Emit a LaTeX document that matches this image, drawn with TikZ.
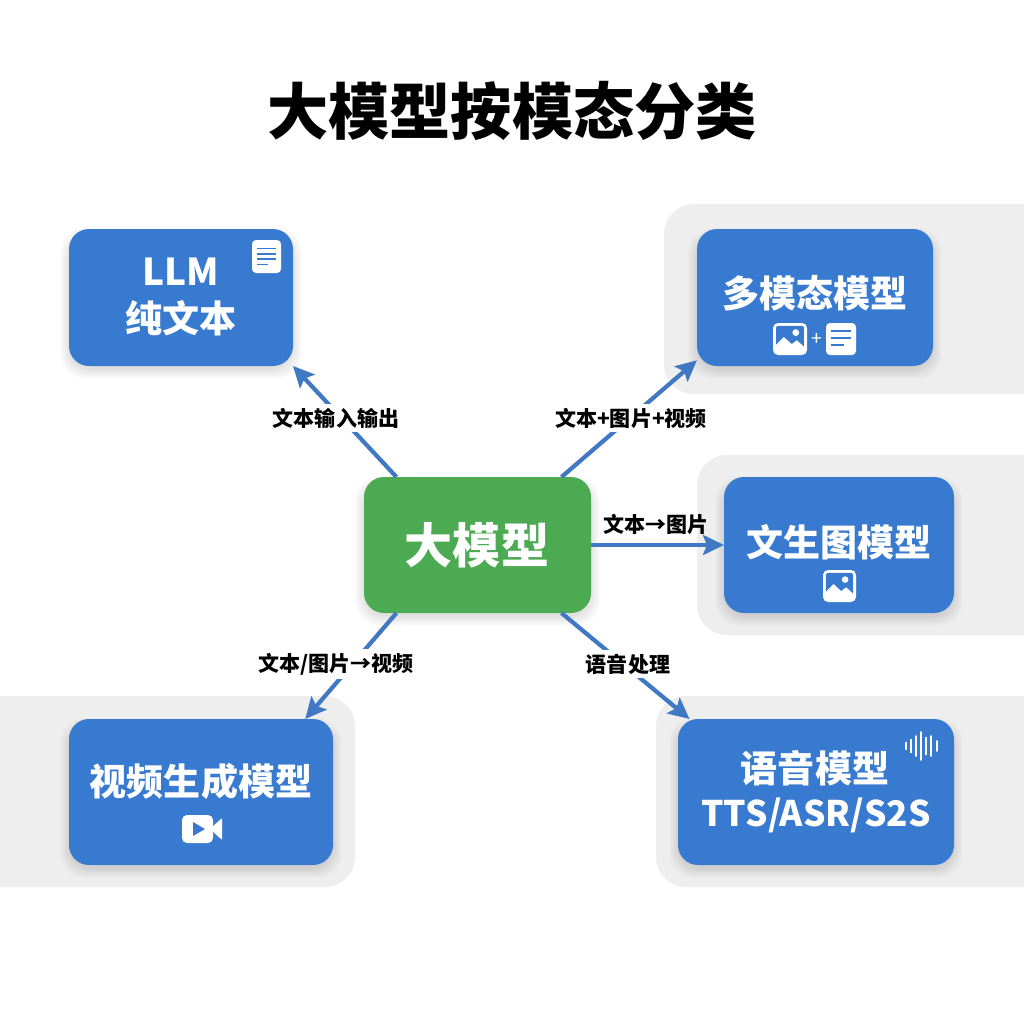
\documentclass[tikz,border=0pt]{standalone}
\usepackage{fontspec}
\setmainfont{Noto Sans CJK SC}
\usetikzlibrary{arrows.meta}
\definecolor{boxblue}{RGB}{56,122,207}
\definecolor{boxgreen}{RGB}{76,170,82}
\definecolor{linkblue}{RGB}{64,120,196}
\definecolor{panelgray}{RGB}{238,238,238}
\newcommand{\fpx}[1]{\fontsize{\dimexpr #1\dimexpr 0.2845pt\relax\relax}{\dimexpr #1\dimexpr 0.3pt\relax\relax}\selectfont\bfseries}
\tikzset{
  x=0.01cm,y=-0.01cm,
  panel/.style={fill=panelgray,draw=none},
  card/.style={draw=none,rounded corners=0.2cm,inner sep=0pt,outer sep=0pt},
  cardtext/.style={text=white,inner sep=0pt,anchor=center},
  linklabel/.style={text=black,inner sep=1pt,anchor=center,font=\fpx{21}},
  link/.style={draw=linkblue,line width=1.2pt,-{Stealth[length=0.21cm,width=0.2cm,inset=0.04cm]}},
}
% soft shadow of a card: x1 y1 x2 y2
\newcommand{\softshadow}[4]{%
  \foreach \g in {0,...,9}{%
    \fill[black,opacity=0.013,rounded corners=0.24cm]
      (#1-9+\g,#2-1+\g) rectangle (#3+9-\g,#4+13-\g);
  }%
}
% card node: name x1 y1 x2 y2 colour
\newcommand{\card}[6]{%
  \softshadow{#2}{#3}{#4}{#5}%
  \node[card,fill=#6,minimum width={(#4-#2)*0.01cm},minimum height={(#5-#3)*0.01cm}]
    (#1) at ({(#2+#4)/2},{(#3+#5)/2}) {};
}
% document icon: x1 y1 x2 y2, rule list, rule width
\newcommand{\docicon}[6]{%
  \fill[white,rounded corners=0.04cm] (#1,#2) rectangle (#3,#4);
  \foreach \f/\w in {#5}{%
    \draw[boxblue,line width=#6] ({#1+0.18*(#3-#1)},{#2+\f*(#4-#2)}) -- ({#1+(0.18+\w*0.64)*(#3-#1)},{#2+\f*(#4-#2)});
  }%
}
% image icon: x1 y1 x2 y2
\newcommand{\imgicon}[4]{%
  \fill[white,rounded corners=0.05cm] (#1,#2) rectangle (#3,#4);
  \fill[boxblue,rounded corners=0.015cm] ({#1+0.09*(#3-#1)},{#2+0.09*(#4-#2)}) rectangle ({#3-0.09*(#3-#1)},{#4-0.2*(#4-#2)});
  \fill[white] ({#1+0.09*(#3-#1)},{#2+0.82*(#4-#2)}) -- ({#1+0.09*(#3-#1)},{#2+0.68*(#4-#2)})
     -- ({#1+0.32*(#3-#1)},{#2+0.44*(#4-#2)}) -- ({#1+0.55*(#3-#1)},{#2+0.66*(#4-#2)})
     -- ({#1+0.7*(#3-#1)},{#2+0.54*(#4-#2)}) -- ({#1+0.91*(#3-#1)},{#2+0.74*(#4-#2)})
     -- ({#1+0.91*(#3-#1)},{#2+0.82*(#4-#2)}) -- cycle;
  \fill[white] ({#1+0.67*(#3-#1)},{#2+0.3*(#4-#2)}) circle[radius={0.1*(#3-#1)}];
}
\begin{document}
\begin{tikzpicture}
\useasboundingbox (0,0) rectangle (1024,1024);
\fill[white] (0,0) rectangle (1024,1024);
\node[inner sep=0pt,font=\fpx{61.2}] (title) at (512,111) {大模型按模态分类};

% panels
\path[panel] (1024,204) [rounded corners=0.3cm] -- (664,204) -- (664,394) [sharp corners] -- (1024,394) -- cycle;
\path[panel] (1024,455) [rounded corners=0.3cm] -- (697,455) -- (697,635) [sharp corners] -- (1024,635) -- cycle;
\path[panel] (1024,696) [rounded corners=0.3cm] -- (656,696) -- (656,887) [sharp corners] -- (1024,887) -- cycle;
\path[panel] (0,696) [rounded corners=0.3cm] -- (355,696) -- (355,887) [sharp corners] -- (0,887) -- cycle;

% cards
\card{llm}{69}{229}{293}{366}{boxblue}
\card{multi}{697}{229}{933}{366}{boxblue}
\card{centre}{364}{477}{591}{613}{boxgreen}
\card{imagegen}{724}{477}{954}{613}{boxblue}
\card{video}{69}{719}{333}{865}{boxblue}
\card{speech}{678}{719}{954}{865}{boxblue}

% connectors
\draw[link] (centre.140) -- (llm.south east);
\draw[link] (centre.39) -- (multi.208);
\draw[link] (centre.east) -- (imagegen.west);
\draw[link] (centre.220) -- (video.35.5);
\draw[link] (centre.-39) -- (speech.150.7);

% connector labels
\node[linklabel,fill=white] (l1) at (336,418) {文本输入输出};
\node[linklabel,fill=white] (l2) at (631,418) {文本+图片+视频};
\node[linklabel] (l3) at (656,524) {文本→图片};
\node[linklabel,fill=white] (l4) at (336,664) {文本/图片→视频};
\node[linklabel,fill=white] (l5) at (628,664) {语音处理};

% card texts
\node[cardtext,font=\fpx{37}] (t1a) at (181,272) {LLM};
\node[cardtext,font=\fpx{37}] (t1b) at (181,318) {纯文本};
\node[cardtext,font=\fpx{37}] (t2) at (815,293) {多模态模型};
\node[cardtext,font=\fpx{48}] (t3) at (477,545) {大模型};
\node[cardtext,font=\fpx{37}] (t4) at (839,542) {文生图模型};
\node[cardtext,font=\fpx{37}] (t5) at (201,781) {视频生成模型};
\node[cardtext,font=\fpx{37}] (t6a) at (815,768) {语音模型};
\node[cardtext,font=\fpx{35.2}] (t6b) at (816,815) {TTS/ASR/S2S};

% icons
\docicon{252}{240}{281}{273}{0.26/1,0.42/1,0.58/1,0.74/0.6}{0.5pt}
\imgicon{773}{323}{807}{355}
\node[cardtext,font=\fontsize{5.5pt}{6pt}\selectfont] (plus) at (817,339) {+};
\docicon{826}{323}{856}{355}{0.25/1,0.47/1,0.69/0.65}{0.8pt}
\imgicon{823}{570}{856}{602}
% video icon
\fill[white,rounded corners=0.05cm] (182,815) rectangle (213,843);
\fill[white,rounded corners=0.01cm] (210,829) -- (222,818) -- (222,840) -- cycle;
\fill[boxblue] (193,822) -- (205,829) -- (193,836) -- cycle;
% waveform icon
\foreach \wx/\wh in {906/7,911/13,916/20,921/28,926/17,931/20,937/10}{%
  \draw[white,line width=0.55pt,line cap=round] (\wx,746-\wh/2) -- (\wx,746+\wh/2);
}
\end{tikzpicture}
\end{document}
